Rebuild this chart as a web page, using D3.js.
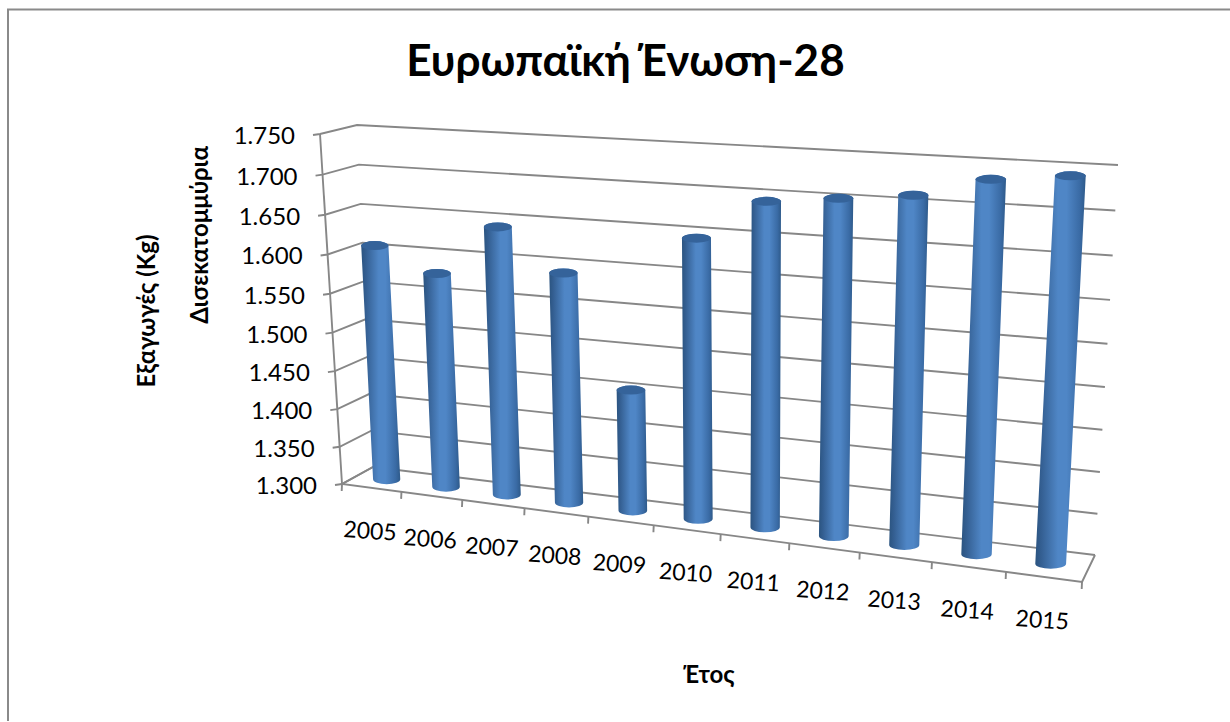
<!DOCTYPE html>
<html><head><meta charset="utf-8">
<script src="https://cdnjs.cloudflare.com/ajax/libs/d3/7.8.5/d3.min.js"></script>
<style>html,body{margin:0;padding:0;background:#fff}svg{display:block}text{font-family:Lato,"Open Sans",sans-serif;fill:#000}</style>
</head><body><svg id="c" width="1230" height="722"></svg>
<script>
const years=["2005","2006","2007","2008","2009","2010","2011","2012","2013","2014","2015"];
const exportsBn=[1.607,1.578,1.6425,1.592,1.454,1.647,1.696,1.705,1.714,1.737,1.746];
const yTicks=[1.30,1.35,1.40,1.45,1.50,1.55,1.60,1.65,1.70,1.75];
const titleText="Ευρωπαϊκή Ένωση-28";
const yTitle1="Εξαγωγές (Kg)";
const yTitle2="Δισεκατομμύρια";
const xTitle="Έτος";

const svg=d3.select("#c");
const fmt=d3.format(".3f");

// homography unit square -> quad
function homog(p00,p10,p11,p01){
  const [x0,y0]=p00,[x1,y1]=p10,[x2,y2]=p11,[x3,y3]=p01;
  const dx1=x1-x2,dx2=x3-x2,sx=x0-x1+x2-x3,dy1=y1-y2,dy2=y3-y2,sy=y0-y1+y2-y3;
  const den=dx1*dy2-dx2*dy1;
  const g=(sx*dy2-dx2*sy)/den,h=(dx1*sy-sx*dy1)/den;
  const a=x1-x0+g*x1,b=x3-x0+h*x3,d=y1-y0+g*y1,e=y3-y0+h*y3;
  return (u,v)=>{const w=g*u+h*v+1;return [(a*u+b*v+x0)/w,(d*u+e*v+y0)/w];};
}
const backWall=homog([373,467],[1095,555],[1118,165],[357,125]);
const frontPlane=homog([342,484],[1082,582],[1099,184],[320,134]);
const project=(u,v,d)=>{const f=frontPlane(u,v),b=backWall(u,v);return [f[0]+(b[0]-f[0])*d,f[1]+(b[1]-f[1])*d];};

const xScale=d3.scaleBand().domain(years).range([0,1]).paddingInner(0).paddingOuter(0);
const yScale=d3.scaleLinear().domain([1.30,1.75]).range([0,1]);
const radius=d3.scaleLinear().domain([0,years.length-1]).range([13.6,15.4]);
const dep=d3.scaleLinear().domain([0,1]).range([0.5,0.46]);

const gridColor="#878787";
const strokeW=1.9;
const defs=svg.append("defs");
const grad=defs.append("linearGradient").attr("id","cyl").attr("x1","0").attr("x2","1").attr("y1","0").attr("y2","0");
[[0,"#2b5480"],[0.12,"#345f92"],[0.45,"#4f86c6"],[0.62,"#4f86c6"],[0.88,"#3a6ba5"],[1,"#2e5a8a"]].forEach(s=>grad.append("stop").attr("offset",s[0]).attr("stop-color",s[1]));

svg.append("path").attr("d",d3.line()([[1230,9.5],[8,9.5],[8,721]])).attr("fill","none").attr("stroke","#8a8a8a").attr("stroke-width",2);

const g=svg.append("g");
const line=d3.line();
yTicks.forEach(t=>{
  const v=yScale(t);
  const tick=project(0,v,0);
  g.append("path").attr("d",line([[tick[0]-7,tick[1]+1],project(0,v,0),project(0,v,1),project(1,v,1)]))
   .attr("fill","none").attr("stroke",gridColor).attr("stroke-width",strokeW);
});
const axisPaths=[
 [project(0,0,0),project(0,1,0)],
 [project(0,0,1),project(0,0,0),project(1,0,0),project(1,0,1),project(1,0,0)],
];
axisPaths.forEach(p=>g.append("path").attr("d",line(p)).attr("fill","none").attr("stroke",gridColor).attr("stroke-width",strokeW));
d3.range(0,years.length+1).forEach(i=>{
  const p=project(i/years.length,0,0);
  g.append("path").attr("d",line([p,[p[0]-0.3,p[1]+7]])).attr("fill","none").attr("stroke",gridColor).attr("stroke-width",strokeW);
});

const ryTop=4.5, ryBot=5;
years.forEach((yr,i)=>{
  const u=xScale(yr)+xScale.bandwidth()/2;
  const b=project(u,0,0.5), t=project(u,yScale(exportsBn[i]),0.5);
  const r=radius(i);
  const tx=t[0]+(i>=8?(i-7)*0.7:0);
  const d=`M${tx-r},${t[1]} L${b[0]-r},${b[1]} A${r},${ryBot} 0 0 0 ${b[0]+r},${b[1]} L${tx+r},${t[1]} A${r},${ryTop} 0 0 0 ${tx-r},${t[1]} Z`;
  g.append("path").attr("d",d).attr("fill","url(#cyl)");
  g.append("ellipse").attr("cx",tx).attr("cy",t[1]).attr("rx",r).attr("ry",ryTop).attr("fill","#35639a");
});

yTicks.forEach(t=>{
  const p=project(0,yScale(t),0);
  g.append("text").attr("x",p[0]-25).attr("y",p[1]+10).attr("text-anchor","end").attr("font-size",24).text(fmt(t));
});
years.forEach(yr=>{
  const u=xScale(yr)+xScale.bandwidth()/2;
  const p=project(u,0,0);
  g.append("text").attr("transform",`translate(${p[0]-2},${p[1]+51}) rotate(4)`).attr("text-anchor","middle").attr("font-size",23).text(yr);
});
svg.append("text").attr("x",625.5).attr("y",76).attr("text-anchor","middle").attr("font-size",44).attr("font-weight",700).text(titleText);
svg.append("text").attr("transform","translate(155,311) rotate(-90)").attr("text-anchor","middle").attr("font-size",24).attr("font-weight",700).text(yTitle1);
svg.append("text").attr("transform","translate(208,235) rotate(-90)").attr("text-anchor","middle").attr("font-size",24).attr("font-weight",700).text(yTitle2);
svg.append("text").attr("x",709).attr("y",683).attr("text-anchor","middle").attr("font-size",24).attr("font-weight",700).text(xTitle);
</script></body></html>
